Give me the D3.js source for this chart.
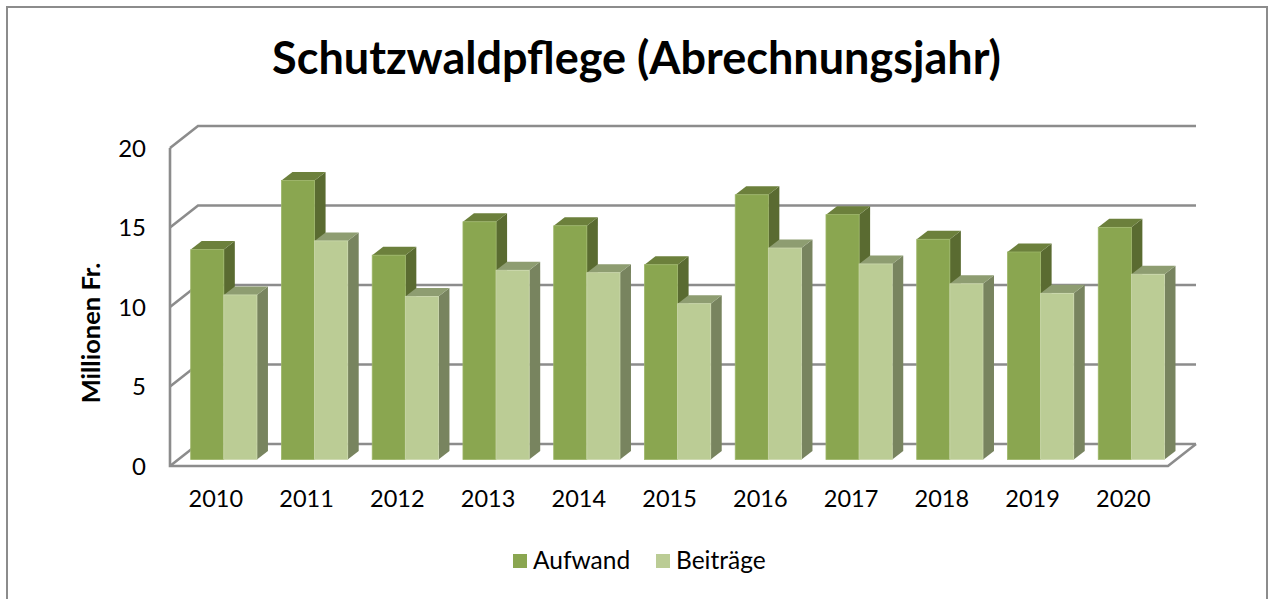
<!DOCTYPE html>
<html>
<head>
<meta charset="utf-8">
<script src="https://cdn.jsdelivr.net/npm/d3@7"></script>
<style>
  html, body { margin: 0; padding: 0; background: #fff; }
  svg { display: block; }
  text { font-family: Lato, "Open Sans", sans-serif; fill: #000; }
</style>
</head>
<body>
<div id="vis"></div>
<script>
// values (Millionen Fr.)
const years = ['2010', '2011', '2012', '2013', '2014', '2015', '2016', '2017', '2018', '2019', '2020'];
const aufwand = [13.2, 17.55, 12.85, 14.95, 14.7, 12.25, 16.65, 15.4, 13.85, 13.05, 14.6];
const beitraege = [10.35, 13.75, 10.25, 11.9, 11.75, 9.8, 13.3, 12.3, 11.05, 10.45, 11.65];
const yTicks = [0, 5, 10, 15, 20];
const seriesNames = ['Aufwand', 'Beiträge'];

const width = 1268, height = 599;

// fake 3d: how far the bars and the back wall are pushed away
const depth = { x: 11, y: 8.5 };
const wall = { x: 28, y: 22 };
const floorFront = 466, left = 170, right = 1168;

const colors = {
  Aufwand: { front: '#8aa650', side: '#5a6b31', top: '#6c803c', edge: '#9db668' },
  'Beiträge': { front: '#bbcc95', side: '#78845f', top: '#8e9d71', edge: '#cbd8ac' }
};

let svg = d3.select('#vis')
  .append('svg')
  .attr('width', width)
  .attr('height', height);

// outer frame, bottom edge is cut off in the original
svg.append('path')
  .attr('d', 'M7,' + height + 'V7H1267V' + height)
  .attr('fill', 'none')
  .attr('stroke', '#8c8c8c')
  .attr('stroke-width', 2);

// scales
let x = d3.scaleBand()
  .domain(years)
  .range([190.7, 1164.5])
  .paddingInner(0.27)
  .paddingOuter(0);

let xSub = d3.scaleBand()
  .domain(seriesNames)
  .range([0, x.bandwidth()]);

// bars stand a bit in front of the wall, so two y scales
let yBars = d3.scaleLinear().domain([0, 20]).range([459.5, 141.5]);
let yFront = d3.scaleLinear().domain([0, 20]).range([floorFront, 148]);

// gridlines: slanted piece on the side wall + long piece on the back wall
let grid = svg.append('g')
  .attr('fill', 'none')
  .attr('stroke', '#8c8c8c')
  .attr('stroke-width', 2.6);

grid.selectAll('path.gridline')
  .data(yTicks)
  .enter().append('path')
  .attr('class', 'gridline')
  .attr('d', d => {
    let y0 = yFront(d);
    return 'M' + left + ',' + y0 + 'L' + (left + wall.x) + ',' + (y0 - wall.y) + 'H' + (right + wall.x);
  });

// floor front edge and left axis
grid.append('path')
  .attr('d', 'M' + left + ',' + yFront(20) + 'V' + floorFront + 'H' + right + 'L' + (right + wall.x) + ',' + (floorFront - wall.y));

// bars, one group per year
let barData = years.map((year, i) => ({
  year: year,
  values: [
    { key: 'Aufwand', value: aufwand[i] },
    { key: 'Beiträge', value: beitraege[i] }
  ]
}));

let groups = svg.append('g')
  .selectAll('g')
  .data(barData)
  .enter().append('g')
  .attr('transform', d => 'translate(' + x(d.year) + ',0)');

let bars = groups.selectAll('g')
  .data(d => d.values)
  .enter().append('g');

let w = xSub.bandwidth();

// side face
bars.append('path')
  .attr('fill', d => colors[d.key].side)
  .attr('d', d => {
    let x1 = xSub(d.key) + w, t = yBars(d.value), b = yBars(0);
    return 'M' + x1 + ',' + t + 'l' + depth.x + ',' + (-depth.y) + 'V' + (b - depth.y) + 'L' + x1 + ',' + b + 'Z';
  });

// top face
bars.append('path')
  .attr('fill', d => colors[d.key].top)
  .attr('d', d => {
    let x0 = xSub(d.key), t = yBars(d.value);
    return 'M' + x0 + ',' + t + 'l' + depth.x + ',' + (-depth.y) + 'h' + w + 'l' + (-depth.x) + ',' + depth.y + 'Z';
  });

// front face
bars.append('rect')
  .attr('x', d => xSub(d.key))
  .attr('y', d => yBars(d.value))
  .attr('width', w)
  .attr('height', d => yBars(0) - yBars(d.value))
  .attr('fill', d => colors[d.key].front)
  .attr('stroke', d => colors[d.key].edge)
  .attr('stroke-width', 0.8);

// axes
let yAxis = svg.append('g')
  .attr('transform', 'translate(' + (left + 1) + ',0)')
  .call(d3.axisLeft(yFront).tickValues(yTicks).tickSize(0).tickPadding(25));
yAxis.select('.domain').remove();
yAxis.selectAll('text')
  .style('font-size', '24px')
  .style('font-family', 'Lato')
  .attr('dy', '0.35em');

let xAxis = svg.append('g')
  .attr('transform', 'translate(-8,' + floorFront + ')')
  .call(d3.axisBottom(x).tickSize(0).tickPadding(24));
xAxis.select('.domain').remove();
xAxis.selectAll('text')
  .style('font-size', '23.5px')
  .style('font-family', 'Lato');

// title and axis label
svg.append('text')
  .attr('x', 636.5)
  .attr('y', 74)
  .attr('text-anchor', 'middle')
  .style('font-size', '45px')
  .style('font-weight', 700)
  .text('Schutzwaldpflege (Abrechnungsjahr)');

svg.append('text')
  .attr('transform', 'translate(100,333) rotate(-90)')
  .attr('text-anchor', 'middle')
  .style('font-size', '25.5px')
  .style('font-weight', 700)
  .text('Millionen Fr.');

// legend
let legendX = d3.scaleOrdinal().domain(seriesNames).range([513, 656]);

let legend = svg.append('g')
  .selectAll('g')
  .data(seriesNames)
  .enter().append('g')
  .attr('transform', d => 'translate(' + legendX(d) + ',554)');

legend.append('rect')
  .attr('width', 14)
  .attr('height', 14)
  .attr('fill', d => colors[d].front);

legend.append('text')
  .attr('x', 20)
  .attr('y', 15)
  .style('font-size', '24.5px')
  .text(d => d);
</script>
</body>
</html>
